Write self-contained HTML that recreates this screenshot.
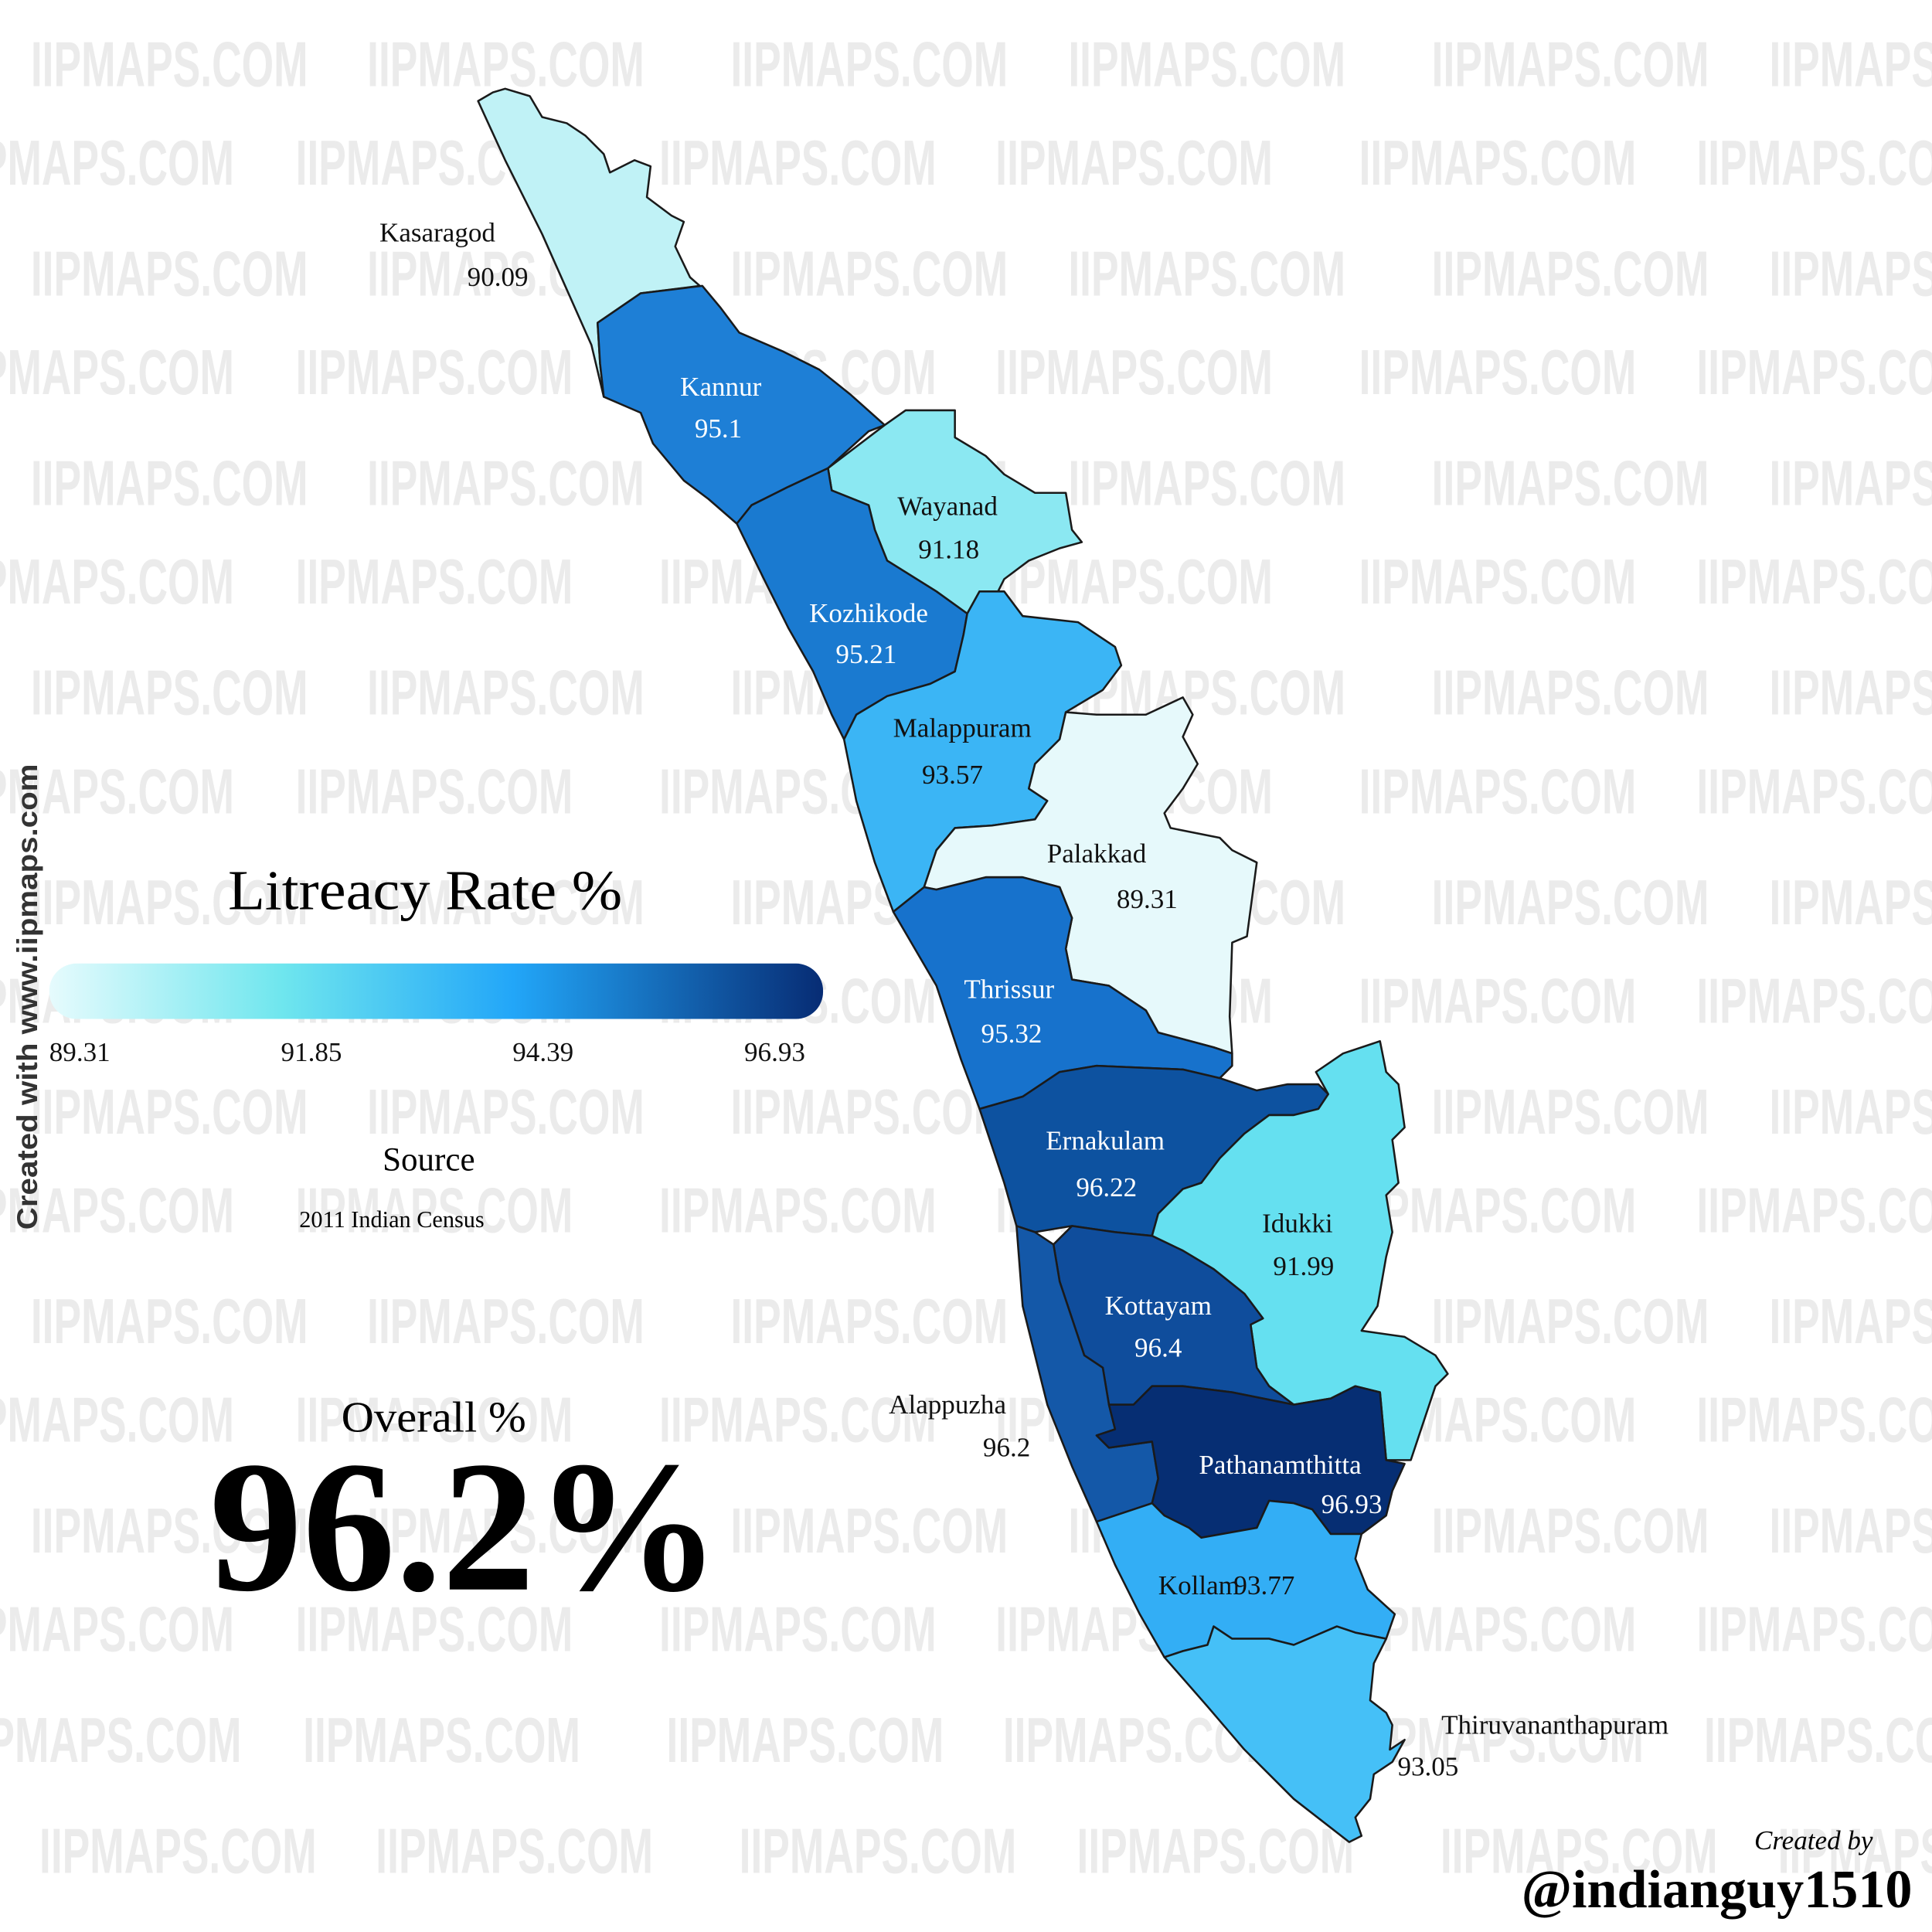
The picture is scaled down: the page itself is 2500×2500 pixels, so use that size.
<!DOCTYPE html>
<html><head><meta charset="utf-8"><style>
html,body{margin:0;padding:0;background:#fff;}
svg{display:block;}
.wm{font-family:"Liberation Sans Narrow","Liberation Sans",sans-serif;font-weight:bold;font-size:52px;fill:#ebebeb;}
.lb{font-family:"Liberation Serif",serif;font-size:22px;text-anchor:middle;}
.w{fill:#fff;} .k{fill:#111;}
path{stroke:#1a1a1a;stroke-width:1.6;stroke-linejoin:round;}
</style></head><body>
<svg width="2500" height="2500" viewBox="0 0 1568 1568" xmlns="http://www.w3.org/2000/svg">
<defs>
<linearGradient id="g" x1="0" x2="1" y1="0" y2="0">
<stop offset="0" stop-color="#e6fbfd"/><stop offset="0.3" stop-color="#6fe6ee"/><stop offset="0.6" stop-color="#22a6f8"/><stop offset="1" stop-color="#072c74"/>
</linearGradient>
</defs>
<rect width="1568" height="1568" fill="#fff"/>
<g class="wm">
<g id="r1"><text x="25" y="70" textLength="225" lengthAdjust="spacingAndGlyphs">IIPMAPS.COM</text><text x="298" y="70" textLength="225" lengthAdjust="spacingAndGlyphs">IIPMAPS.COM</text><text x="593" y="70" textLength="225" lengthAdjust="spacingAndGlyphs">IIPMAPS.COM</text><text x="867" y="70" textLength="225" lengthAdjust="spacingAndGlyphs">IIPMAPS.COM</text><text x="1162" y="70" textLength="225" lengthAdjust="spacingAndGlyphs">IIPMAPS.COM</text><text x="1436" y="70" textLength="225" lengthAdjust="spacingAndGlyphs">IIPMAPS.COM</text></g>
<g id="r2"><text x="-35" y="150" textLength="225" lengthAdjust="spacingAndGlyphs">IIPMAPS.COM</text><text x="240" y="150" textLength="225" lengthAdjust="spacingAndGlyphs">IIPMAPS.COM</text><text x="535" y="150" textLength="225" lengthAdjust="spacingAndGlyphs">IIPMAPS.COM</text><text x="808" y="150" textLength="225" lengthAdjust="spacingAndGlyphs">IIPMAPS.COM</text><text x="1103" y="150" textLength="225" lengthAdjust="spacingAndGlyphs">IIPMAPS.COM</text><text x="1377" y="150" textLength="225" lengthAdjust="spacingAndGlyphs">IIPMAPS.COM</text></g>
<use href="#r1" y="170"/><use href="#r2" y="170"/>
<use href="#r1" y="340"/><use href="#r2" y="340"/>
<use href="#r1" y="510"/><use href="#r2" y="510"/>
<use href="#r1" y="680"/><use href="#r2" y="680"/>
<use href="#r1" y="850"/><use href="#r2" y="850"/>
<use href="#r1" y="1020"/><use href="#r2" y="1020"/>
<use href="#r1" y="1190"/><use href="#r2" y="1190"/>
<use href="#r2" y="1280" x="6"/><use href="#r1" y="1450" x="7"/>
</g>
<g>
<path fill="#c0f2f6" d="M388,82 400,75 410,72 430,78 440,95 460,100 475,110 490,125 495,140 515,130 528,135 525,160 545,175 555,180 548,200 560,225 568,232 520,238 485,262 487,295 490,322 480,280 460,235 440,190 410,130Z"/>
<path fill="#1e7fd6" d="M485,262 520,238 570,232 585,250 600,270 635,285 665,300 690,320 718,345 705,350 672,380 640,395 610,410 598,425 575,405 555,390 530,360 520,335 490,322 487,295Z"/>
<path fill="#8be8f2" d="M672,380 718,345 735,333 775,333 775,355 800,370 815,385 840,400 865,400 870,430 878,440 860,445 835,455 815,470 810,480 795,480 785,498 760,480 720,455 710,430 705,410 675,398Z"/>
<path fill="#1a7ad0" d="M598,425 610,410 640,395 672,380 675,398 705,410 710,430 720,455 760,480 785,498 782,515 775,545 755,555 720,565 695,580 685,600 675,580 660,545 640,510 620,470Z"/>
<path fill="#3bb5f5" d="M685,600 695,580 720,565 755,555 775,545 782,515 785,498 795,480 815,480 830,500 875,505 905,525 910,540 895,560 865,578 860,600 840,620 835,640 850,650 840,665 805,670 775,672 760,690 750,720 725,740 710,700 695,650Z"/>
<path fill="#e6f9fb" d="M750,720 760,690 775,672 805,670 840,665 850,650 835,640 840,620 860,600 865,578 890,580 930,580 960,566 968,580 960,598 972,620 960,640 945,660 950,672 990,680 1000,690 1020,700 1012,760 1000,765 998,825 1000,855 985,850 940,838 930,820 900,800 870,795 865,770 870,745 860,720 830,712 800,712 760,722Z"/>
<path fill="#1772cc" d="M725,740 750,720 760,722 800,712 830,712 860,720 870,745 865,770 870,795 900,800 930,820 940,838 985,850 1000,855 1000,865 990,875 960,868 890,865 860,870 830,890 795,900 780,860 760,800Z"/>
<path fill="#0d52a0" d="M795,900 830,890 860,870 890,865 960,868 990,875 1020,885 1045,880 1070,880 1078,888 1070,900 1050,905 1030,905 1010,920 990,940 975,960 960,965 940,985 935,1003 905,1000 870,995 840,1000 825,995 815,960 805,930Z"/>
<path fill="#65e0f0" d="M935,1003 940,985 960,965 975,960 990,940 1010,920 1030,905 1050,905 1070,900 1078,888 1068,870 1090,855 1120,845 1125,870 1135,880 1140,915 1130,925 1135,960 1125,970 1130,1000 1125,1020 1118,1060 1105,1080 1140,1085 1165,1100 1175,1115 1165,1125 1150,1170 1145,1185 1125,1185 1120,1130 1100,1125 1080,1135 1050,1140 1030,1125 1020,1110 1015,1075 1025,1070 1010,1050 985,1030 960,1015Z"/>
<path fill="#0f4d9c" d="M855,1010 870,995 905,1000 935,1003 960,1015 985,1030 1010,1050 1025,1070 1015,1075 1020,1110 1030,1125 1050,1140 1040,1138 1000,1130 960,1125 935,1125 920,1140 900,1140 895,1110 880,1100 870,1070 860,1040Z"/>
<path fill="#1458a8" d="M825,995 840,1000 855,1010 860,1040 870,1070 880,1100 895,1110 900,1140 905,1160 890,1165 900,1175 935,1170 940,1200 935,1220 890,1235 870,1190 850,1140 830,1060Z"/>
<path fill="#062e73" d="M900,1140 920,1140 935,1125 960,1125 1000,1130 1040,1138 1050,1140 1080,1135 1100,1125 1120,1130 1125,1185 1140,1188 1130,1210 1125,1230 1105,1245 1080,1245 1065,1225 1050,1220 1030,1218 1020,1240 975,1248 965,1240 945,1230 935,1220 940,1200 935,1170 900,1175 890,1165 905,1160Z"/>
<path fill="#33aef5" d="M890,1235 935,1220 945,1230 965,1240 975,1248 1020,1240 1030,1218 1050,1220 1065,1225 1080,1245 1105,1245 1100,1265 1110,1290 1132,1310 1125,1330 1100,1325 1085,1320 1050,1335 1030,1330 1000,1330 985,1320 980,1335 960,1340 945,1345 925,1310 905,1270Z"/>
<path fill="#45c0f7" d="M945,1345 960,1340 980,1335 985,1320 1000,1330 1030,1330 1050,1335 1085,1320 1100,1325 1125,1330 1115,1350 1112,1380 1125,1390 1130,1400 1128,1420 1140,1412 1130,1430 1115,1440 1112,1460 1100,1475 1105,1490 1095,1495 1050,1460 1010,1420 980,1385Z"/>
</g>
<g class="lb">
<text class="k" x="355" y="196">Kasaragod</text><text class="k" x="404" y="232">90.09</text>
<text class="w" x="585" y="321">Kannur</text><text class="w" x="583" y="355">95.1</text>
<text class="k" x="769" y="418">Wayanad</text><text class="k" x="770" y="453">91.18</text>
<text class="w" x="705" y="505">Kozhikode</text><text class="w" x="703" y="538">95.21</text>
<text class="k" x="781" y="598">Malappuram</text><text class="k" x="773" y="636">93.57</text>
<text class="k" x="890" y="700">Palakkad</text><text class="k" x="931" y="737">89.31</text>
<text class="w" x="819" y="810">Thrissur</text><text class="w" x="821" y="846">95.32</text>
<text class="w" x="897" y="933">Ernakulam</text><text class="w" x="898" y="971">96.22</text>
<text class="k" x="1053" y="1000">Idukki</text><text class="k" x="1058" y="1035">91.99</text>
<text class="w" x="940" y="1067">Kottayam</text><text class="w" x="940" y="1101">96.4</text>
<text class="k" x="769" y="1147">Alappuzha</text><text class="k" x="817" y="1182">96.2</text>
<text class="w" x="1039" y="1196">Pathanamthitta</text><text class="w" x="1097" y="1228">96.93</text>
<text class="k" x="973" y="1294">Kollam</text><text class="k" x="1026" y="1294">93.77</text>
<text class="k" x="1262" y="1407">Thiruvananthapuram</text><text class="k" x="1159" y="1441">93.05</text>
</g>
<text x="185" y="738" font-family="Liberation Serif,serif" font-size="46" textLength="320" lengthAdjust="spacingAndGlyphs">Litreacy Rate %</text>
<rect x="40" y="782" width="628" height="45" rx="22" fill="url(#g)"/>
<g font-family="Liberation Serif,serif" font-size="22" fill="#111">
<text x="40" y="861">89.31</text><text x="228" y="861">91.85</text><text x="416" y="861">94.39</text><text x="604" y="861">96.93</text>
</g>
<text x="348" y="950" font-family="Liberation Serif,serif" font-size="27" text-anchor="middle">Source</text>
<text x="318" y="996" font-family="Liberation Serif,serif" font-size="19" text-anchor="middle">2011 Indian Census</text>
<text x="277" y="1162" font-family="Liberation Serif,serif" font-size="35" textLength="150" lengthAdjust="spacingAndGlyphs">Overall %</text>
<text x="170" y="1290" font-family="Liberation Serif,serif" font-weight="bold" font-size="152" textLength="415" lengthAdjust="spacingAndGlyphs">96.2%</text>
<text transform="translate(30,998) rotate(-90)" font-family="Liberation Sans,sans-serif" font-weight="bold" font-size="23" fill="#333" textLength="378" lengthAdjust="spacingAndGlyphs">Created with www.iipmaps.com</text>
<text x="1520" y="1501" font-family="Liberation Serif,serif" font-style="italic" font-size="22" text-anchor="end">Created by</text>
<text x="1552" y="1548" font-family="Liberation Serif,serif" font-weight="bold" font-size="44" text-anchor="end">@indianguy1510</text>
</svg>
</body></html>
